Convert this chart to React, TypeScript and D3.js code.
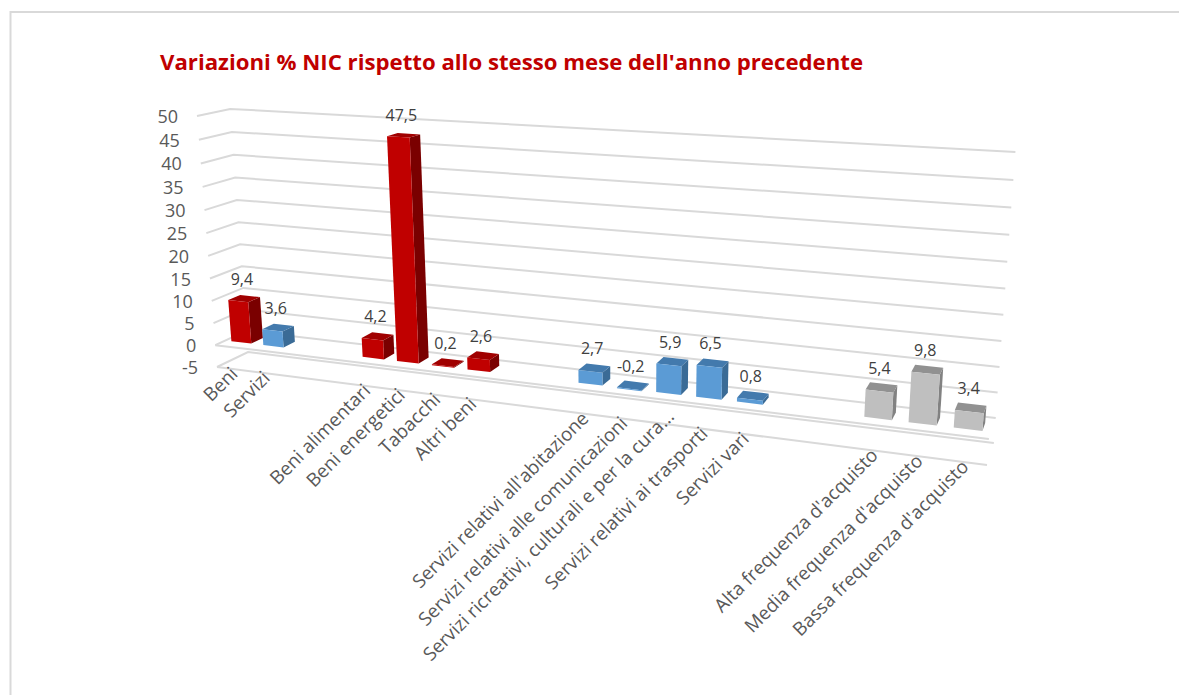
import React from "react";
import * as d3 from "d3";

const TITLE = "Variazioni % NIC rispetto allo stesso mese dell'anno precedente";
const valueTicks = [-5, 0, 5, 10, 15, 20, 25, 30, 35, 40, 45, 50];
const slotCount = 20;
const slots = [0, 1, 4, 5, 6, 7, 10, 11, 12, 13, 14, 17, 18, 19];
const categories = [
  "Beni", "Servizi", "Beni alimentari", "Beni energetici", "Tabacchi", "Altri beni",
  "Servizi relativi all'abitazione", "Servizi relativi alle comunicazioni",
  "Servizi ricreativi, culturali e per la cura…", "Servizi relativi ai trasporti", "Servizi vari",
  "Alta frequenza d'acquisto", "Media frequenza d'acquisto", "Bassa frequenza d'acquisto",
];
const values = [9.4, 3.6, 4.2, 47.5, 0.2, 2.6, 2.7, -0.2, 5.9, 6.5, 0.8, 5.4, 9.8, 3.4];
const groups = ["r", "b", "r", "r", "r", "r", "b", "b", "b", "b", "b", "g", "g", "g"];
const palette: Record<string, { front: string; side: string; top: string }> = {
  r: { front: "#C00000", side: "#7A0000", top: "#A00000" },
  b: { front: "#5B9BD5", side: "#3A6B96", top: "#437AAD" },
  g: { front: "#BFBFBF", side: "#828282", top: "#919191" },
};

// Projection of the chart's unit cube to the screen (X along categories, Y up, Z into the page)
const p000 = [217, 367];
const p100 = [987, 465];
const p010 = [197, 116];
const p001 = [248, 352];
const w1 = 0.823, w2 = 0.953, w3 = 1.034;
function project(X: number, Y: number, Z: number): [number, number] {
  const den = 1 + X * (w1 - 1) + Y * (w2 - 1) + Z * (w3 - 1);
  const f = (k: number) =>
    p000[k] + X * (w1 * p100[k] - p000[k]) + Y * (w2 * p010[k] - p000[k]) + Z * (w3 * p001[k] - p000[k]);
  return [f(0) / den, f(1) / den];
}

const yScale = d3.scaleLinear().domain([-5, 50]).range([0, 1]);
const xBand = d3.scaleBand<number>().domain(d3.range(slotCount)).range([0, 1]).paddingInner(0).paddingOuter(0);
const BAR = 0.625;
const Z0 = 0.32, Z1 = 0.7;
const fmt = d3.format(".1f");
const itNum = (v: number) => fmt(v).replace("−", "-").replace(".", ",");
const FONT = "'Open Sans', sans-serif";
const line = d3.line();
const poly = (pts: [number, number][]) => line(pts) + "Z";

export default function App() {
  const bw = xBand.bandwidth();
  return (
    <svg width={1179} height={695} style={{ position: "absolute", left: 0, top: 0, background: "#fff" }}>
      <path d="M10.5 695V12H1179" fill="none" stroke="#D9D9D9" strokeWidth={2} />
      <text x={160} y={70} fontFamily={FONT} fontWeight={700} fontSize={21.5} fill="#C00000" textLength={703} lengthAdjust="spacingAndGlyphs">{TITLE}</text>
      <g fill="none" stroke="#D9D9D9" strokeWidth={2}>
        {valueTicks.map((v) => {
          const Y = yScale(v);
          return <path key={v} d={line([project(0, Y, 0), project(0, Y, 1), project(1, Y, 1)]) as string} />;
        })}
        {[-5, 0].map((v) => (
          <path key={v} d={line([project(0, yScale(v), 0), project(1, yScale(v), 0)]) as string} />
        ))}
      </g>
      <g fontFamily={FONT} fontSize={18} fill="#595959" textAnchor="end">
        {valueTicks.map((v) => {
          const [x, y] = project(0, yScale(v), 0);
          return <text key={v} x={x - 19} y={y + 7}>{v}</text>;
        })}
      </g>
      {values.map((v, i) => {
        const c = palette[groups[i]];
        const X0 = (xBand(slots[i]) as number) + bw * (1 - BAR) / 2;
        const X1 = X0 + bw * BAR;
        const Ya = yScale(Math.min(0, v));
        const Yb = yScale(Math.max(0, v));
        return (
          <g key={i}>
            <path d={poly([project(X1, Ya, Z0), project(X1, Ya, Z1), project(X1, Yb, Z1), project(X1, Yb, Z0)])} fill={c.side} />
            <path d={poly([project(X0, Yb, Z0), project(X1, Yb, Z0), project(X1, Yb, Z1), project(X0, Yb, Z1)])} fill={c.top} />
            <path d={poly([project(X0, Ya, Z0), project(X1, Ya, Z0), project(X1, Yb, Z0), project(X0, Yb, Z0)])} fill={c.front} />
          </g>
        );
      })}
      <g fontFamily={FONT} fontSize={16} fill="#404040" textAnchor="middle">
        {values.map((v, i) => {
          const X = (xBand(slots[i]) as number) + bw / 2;
          const [x, y] = project(X, yScale(Math.max(0, v)), 0.5);
          return <text key={i} x={x - 2} y={y - 14}>{itNum(v)}</text>;
        })}
      </g>
      <g fontFamily={FONT} fontSize={18.8} fill="#595959" textAnchor="end">
        {categories.map((t, i) => {
          const X = (xBand(slots[i]) as number) + bw / 2;
          const [x, y] = project(X, 0, 0);
          // the truncated label sits further up its slot, as Excel centres it on the full text
          const truncated = t.endsWith("…");
          const dx = truncated ? 13 : 6;
          const dy = truncated ? -6 : 6;
          return <text key={i} transform={`translate(${x + dx},${y + dy}) rotate(-45)`}>{t}</text>;
        })}
      </g>
    </svg>
  );
}
